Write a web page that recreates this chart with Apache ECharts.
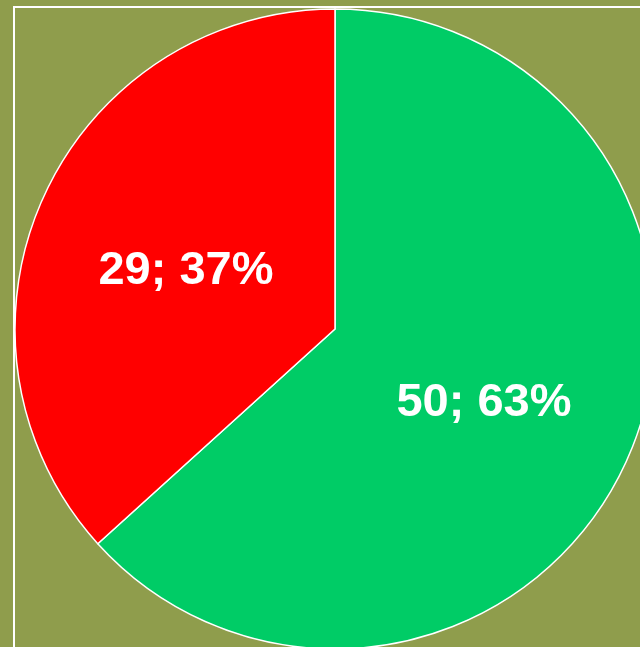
<!DOCTYPE html>
<html>
<head>
<meta charset="utf-8">
<script src="https://cdn.jsdelivr.net/npm/echarts@6/dist/echarts.min.js"></script>
<style>
  html, body { margin: 0; padding: 0; background: #8f9d4c; }
  #main { width: 640px; height: 647px; }
</style>
</head>
<body>
<div id="main"></div>
<script>
const categories = ['Да', 'Нет'];
const values = [50, 29];
const colors = ['#00cc66', '#ff0000'];

const myChart = echarts.init(document.getElementById('main'));

const option = {
    backgroundColor: '#8f9d4c',
    animation: false,
    graphic: [
        {
            type: 'rect',
            shape: { x: 14, y: 7, width: 700, height: 700 },
            style: { fill: 'none', stroke: '#ffffff', lineWidth: 2 },
            z: 0
        }
    ],
    series: [
        {
            type: 'pie',
            center: [335, 329],
            radius: 320,
            startAngle: 90,
            clockwise: true,
            silent: true,
            z: 5,
            data: categories.map(function (name, i) {
                return { name: name, value: values[i], itemStyle: { color: colors[i] } };
            }),
            itemStyle: {
                borderColor: '#ffffff',
                borderWidth: 1.5
            },
            label: {
                show: true,
                position: 'inside',
                color: '#ffffff',
                fontFamily: 'Liberation Sans, Arial, sans-serif',
                fontWeight: 'bold',
                fontSize: 47,
                formatter: function (p) {
                    return p.value + '; ' + Math.round(p.percent) + '%';
                }
            },
            labelLayout: { dy: 8 },
            labelLine: { show: false }
        }
    ]
};

myChart.setOption(option);
window.onresize = myChart.resize;
</script>
</body>
</html>
